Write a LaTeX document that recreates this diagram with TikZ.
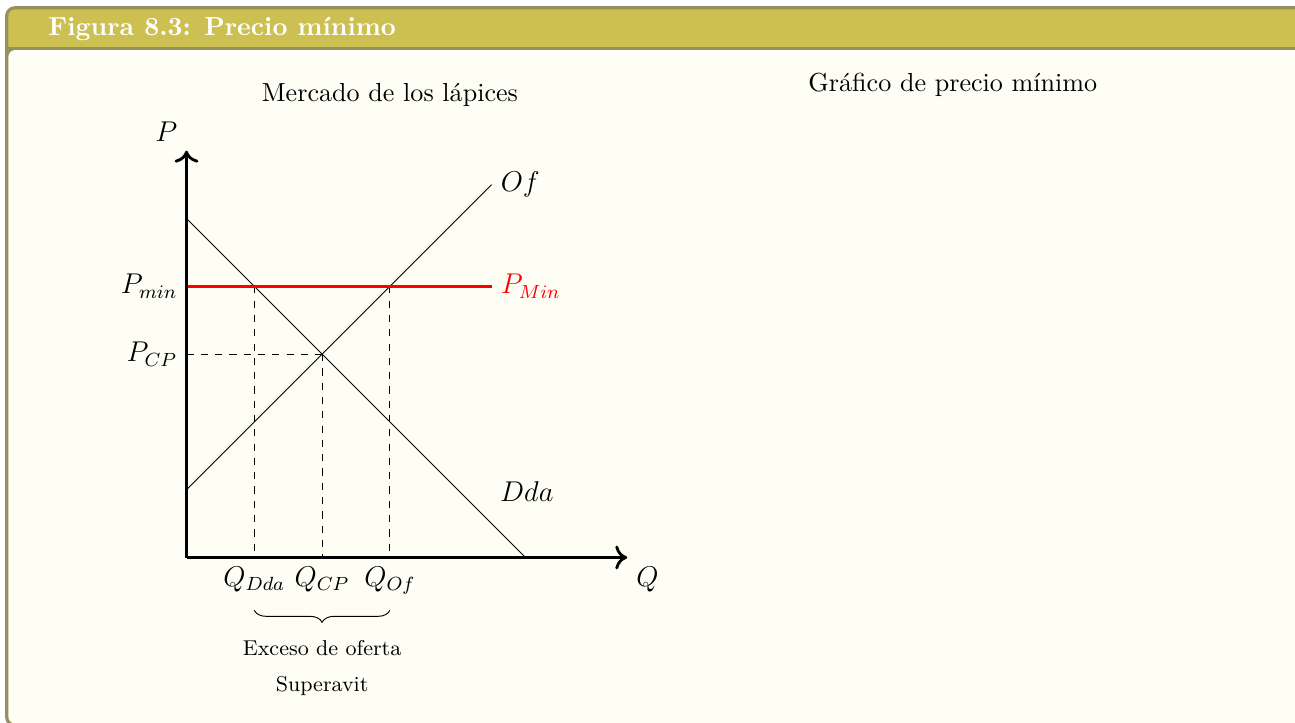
\documentclass[11pt,tikz,border=0pt]{standalone}
\usetikzlibrary{decorations.pathreplacing, arrows.meta}

\definecolor{boxframe}{RGB}{150,144,92}
\definecolor{boxtitle}{RGB}{204,192,82}
\definecolor{boxback}{RGB}{254,254,245}

\begin{document}
\begin{tikzpicture}[
    axis/.style={very thick, -{Computer Modern Rightarrow[length=5pt, width=10pt]}},
    curve/.style={thin},
    guide/.style={dashed, thin},
    pmin/.style={red, very thick},
    lbl/.style={font=\large}
]

\useasboundingbox (-2.751,-2.441) rectangle (16.35,8.223);

% ================= Caja =================

\fill[boxframe, rounded corners=1.5mm] (-2.677,-2.50) rectangle (17,8.134);
\fill[boxtitle] (17,7.530) -- (-2.627,7.530)
    [rounded corners=1mm] -- (-2.627,8.084) -- (17,8.084) -- cycle;
\fill[boxback, rounded corners=1mm] (-2.627,-2.45) rectangle (17,7.485);

\node[anchor=base west, inner sep=0pt, text=white, font=\bfseries] (titulo) at (-2.043,7.70)
{Figura 8.3: Precio mínimo};

% ================= Mercado =================

\coordinate (O) at (0,0);
\coordinate (ytop) at (0,6);
\coordinate (xend) at (6.5,0);

\coordinate (d1) at (0,5);
\coordinate (d2) at (5,0);
\coordinate (s1) at (0,1);
\coordinate (s2) at (4.5,5.5);
\coordinate (m1) at (0,4);
\coordinate (m2) at (4.5,4);

\coordinate (E) at (2,3);
\coordinate (A) at (1,4);
\coordinate (B) at (3,4);
\coordinate (pcp) at (0,3);
\coordinate (qa) at (1,0);
\coordinate (qe) at (2,0);
\coordinate (qb) at (3,0);

\draw[curve] (d1)--(d2);
\draw[curve] (s1)--(s2);

\draw[guide] (pcp)--(E);
\draw[guide] (A)--(qa);
\draw[guide] (E)--(qe);
\draw[guide] (B)--(qb);

\draw[pmin] (m1)--(m2);

\draw[axis] (O)--(ytop);
\draw[axis] (O)--(xend);

\node[lbl, above left] (lp) at (ytop) {$P$};
\node[lbl, below right] (lq) at (xend) {$Q$};
\node[lbl, right] (lof) at (s2) {$Of$};
\node[lbl] (ldda) at (5.02,0.97) {$Dda$};
\node[lbl, right, red] (lpm) at (m2) {$P_{Min}$};
\node[lbl, left] (lpmin) at (m1) {$P_{min}$};
\node[lbl, left] (lpcp) at (pcp) {$P_{CP}$};

\node[lbl, below] (lqa) at (qa) {$Q_{Dda}$};
\node[lbl, below] (lqe) at (qe) {$Q_{CP}$};
\node[lbl, below] (lqb) at (qb) {$Q_{Of}$};

\draw[decorate, decoration={brace, mirror, amplitude=5pt}] (1,-0.78)--(3,-0.78);

\node[font=\footnotesize] (exceso) at (2,-1.335) {Exceso de oferta};
\node[font=\footnotesize] (superavit) at (2,-1.90) {Superavit};

\node[anchor=base] (merc) at (3,6.73) {Mercado de los lápices};

% ================= Precio minimo =================

\node[anchor=base west, inner sep=0pt] (graf) at (9.166,6.87) {Gráfico de precio mínimo};

\end{tikzpicture}
\end{document}
